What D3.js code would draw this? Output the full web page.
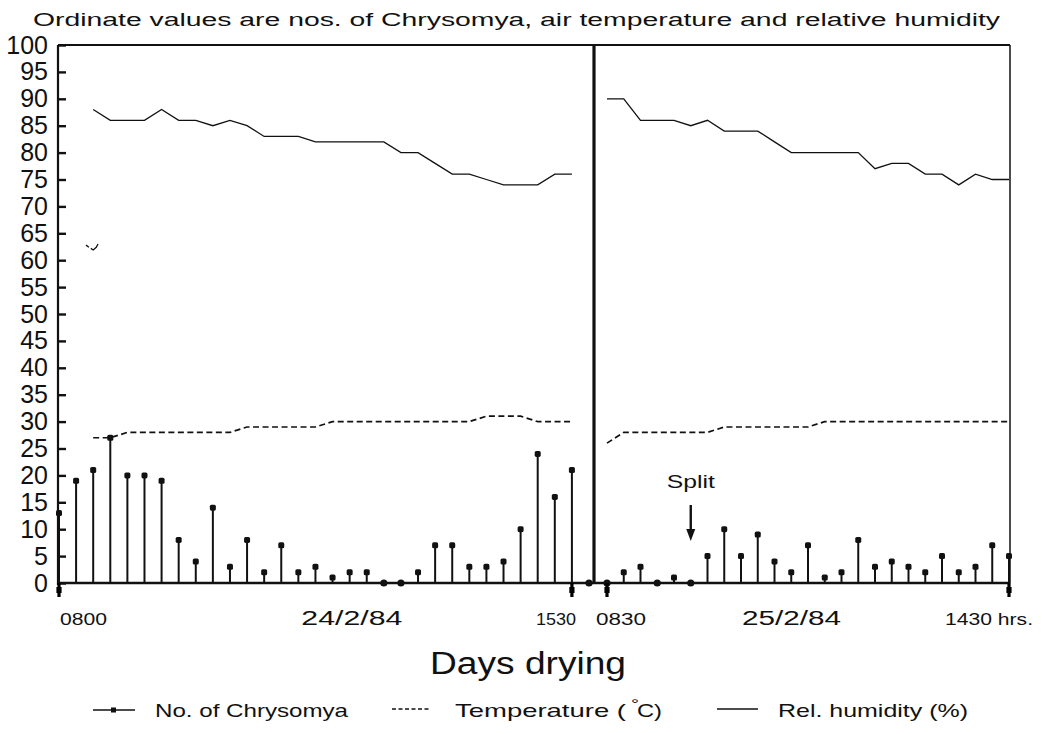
<!DOCTYPE html>
<html>
<head>
<meta charset="utf-8">
<script src="https://cdn.jsdelivr.net/npm/d3@7"></script>
<style>
  html, body { margin: 0; padding: 0; background: #fff; }
  svg { display: block; font-family: "Liberation Sans", Arial, sans-serif; }
</style>
</head>
<body>
<svg id="chart" width="1046" height="734"></svg>
<script>
// ---------- data ----------
// No. of Chrysomya per sampling slot, day 1 (24/2/84) and day 2 (25/2/84)
const day1Counts = [13, 19, 21, 27, 20, 20, 19, 8, 4, 14, 3, 8, 2, 7, 2, 3, 1, 2, 2, 0, 0, 2, 7, 7, 3, 3, 4, 10, 24, 16, 21, 0];
const day2Counts = [0, 2, 3, 0, 1, 0, 5, 10, 5, 9, 4, 2, 7, 1, 2, 8, 3, 4, 3, 2, 5, 2, 3, 7, 5];

// air temperature (deg C), null = not recorded
const day1Temp = [null, null, 27, 27, 28, 28, 28, 28, 28, 28, 28, 29, 29, 29, 29, 29, 30, 30, 30, 30, 30, 30, 30, 30, 30, 31, 31, 31, 30, 30, 30, null];
const day2Temp = [26, 28, 28, 28, 28, 28, 28, 29, 29, 29, 29, 29, 29, 30, 30, 30, 30, 30, 30, 30, 30, 30, 30, 30, 30];

// relative humidity (%)
const day1RH = [null, null, 88, 86, 86, 86, 88, 86, 86, 85, 86, 85, 83, 83, 83, 82, 82, 82, 82, 82, 80, 80, 78, 76, 76, 75, 74, 74, 74, 76, 76, null];
const day2RH = [90, 90, 86, 86, 86, 85, 86, 84, 84, 84, 82, 80, 80, 80, 80, 80, 77, 78, 78, 76, 76, 74, 76, 75, 75];
// small stray humidity trace drawn near slot 2 of day 1 (slot, value)
const strayRH = [[1.58, 62.8], [1.75, 62.4], null, [1.86, 62.2], [2.0, 61.9], [2.18, 62.4], [2.28, 63.0]];

const yTicks = d3.range(0, 101, 5);
const day1Labels = ["0800", "24/2/84", "1530"];
const day2Labels = ["0830", "25/2/84", "1430 hrs."];
const splitSlot = 5;   // day 2 slot marked "Split"

// ---------- setup ----------
const svg = d3.select("#chart");
const ink = "#111";

const y = d3.scaleLinear().domain([0, 100]).range([583, 45]);
const x1 = d3.scaleLinear().domain([0, day1Counts.length - 1]).range([59, 589]);
const x2 = d3.scaleLinear().domain([0, day2Counts.length - 1]).range([607, 1009]);
const xLeft = 58, xRight = 1010, xDivider = 594;

// title
svg.append("text")
  .attr("x", 33).attr("y", 26)
  .attr("textLength", 967).attr("lengthAdjust", "spacingAndGlyphs")
  .style("font-size", "18px").style("fill", ink)
  .text("Ordinate values are nos. of Chrysomya, air temperature and relative humidity");

// frame
const frame = svg.append("g").attr("stroke", ink).attr("fill", "none");
frame.append("line").attr("x1", xLeft).attr("x2", xRight).attr("y1", y(100)).attr("y2", y(100)).attr("stroke-width", 1.8);
frame.append("line").attr("x1", xRight).attr("x2", xRight).attr("y1", y(100)).attr("y2", y(0)).attr("stroke-width", 1.5);
frame.append("line").attr("x1", xDivider).attr("x2", xDivider).attr("y1", y(100)).attr("y2", y(0)).attr("stroke-width", 3.2);
frame.append("line").attr("x1", xLeft).attr("x2", xLeft).attr("y1", y(100)).attr("y2", y(0) + 2).attr("stroke-width", 2.2);

// y axis, ticks pointing inward
const yAxis = svg.append("g")
  .attr("transform", `translate(${xLeft},0)`)
  .call(d3.axisLeft(y).tickValues(yTicks).tickSizeInner(-8).tickSizeOuter(0).tickPadding(10));
yAxis.select(".domain").remove();
yAxis.selectAll(".tick line").attr("stroke", ink).attr("stroke-width", 2.4);
yAxis.selectAll(".tick text")
  .attr("fill", ink)
  .style("font-size", "25px")
  .style("font-family", "'Liberation Sans', Arial, sans-serif");

// baseline
svg.append("line")
  .attr("x1", xLeft).attr("x2", xRight)
  .attr("y1", y(0)).attr("y2", y(0))
  .attr("stroke", ink).attr("stroke-width", 2.6);

// ---------- lines ----------
function drawLines(x, temp, rh) {
  const line = d3.line()
    .defined(d => d != null)
    .x((d, i) => x(i))
    .y(d => y(d));
  svg.append("path").datum(temp)
    .attr("d", line)
    .attr("fill", "none").attr("stroke", ink)
    .attr("stroke-width", 1.7).attr("stroke-dasharray", "6,3.5");
  svg.append("path").datum(rh)
    .attr("d", line)
    .attr("fill", "none").attr("stroke", ink)
    .attr("stroke-width", 1.3);
}
drawLines(x1, day1Temp, day1RH);
drawLines(x2, day2Temp, day2RH);

svg.append("path").datum(strayRH)
  .attr("d", d3.line().defined(d => d != null).x(d => x1(d[0])).y(d => y(d[1])))
  .attr("fill", "none").attr("stroke", ink).attr("stroke-width", 1.3);

// ---------- stems ----------
function drawStems(x, counts) {
  const g = svg.append("g");
  const pts = counts.map((v, i) => ({ i, v }));
  g.selectAll("line.stem")
    .data(pts.filter(d => d.v > 0))
    .join("line")
    .attr("class", "stem")
    .attr("x1", d => x(d.i)).attr("x2", d => x(d.i))
    .attr("y1", y(0)).attr("y2", d => y(d.v))
    .attr("stroke", ink).attr("stroke-width", 2);
  g.selectAll("rect.cap")
    .data(pts.filter(d => d.v > 0))
    .join("rect")
    .attr("class", "cap")
    .attr("x", d => x(d.i) - 3).attr("y", d => y(d.v) - 3)
    .attr("width", 6).attr("height", 6).attr("rx", 1.6)
    .attr("fill", ink);
  g.selectAll("circle.zero")
    .data(pts.filter(d => d.v === 0))
    .join("circle")
    .attr("class", "zero")
    .attr("cx", d => x(d.i)).attr("cy", y(0))
    .attr("r", 3.6).attr("fill", ink);
}
drawStems(x1, day1Counts);
drawStems(x2, day2Counts);

// ticks below the baseline at the start / end of each day
const dayTicks = [x1(0), x1(day1Counts.length - 2), x2(0), x2(day2Counts.length - 1)];
svg.append("g").selectAll("rect")
  .data(dayTicks)
  .join("rect")
  .attr("x", d => d - 1.6).attr("y", y(0))
  .attr("width", 3.2).attr("height", 14)
  .attr("fill", "#000");
svg.append("g").selectAll("rect")
  .data(dayTicks)
  .join("rect")
  .attr("x", d => d - 2.6).attr("y", y(0) + 4)
  .attr("width", 5.2).attr("height", 6)
  .attr("fill", "#000");

// ---------- x labels ----------
const labelY = 625;
function label(text, xpos, size, width) {
  return svg.append("text")
    .attr("x", xpos).attr("y", labelY)
    .attr("textLength", width).attr("lengthAdjust", "spacingAndGlyphs")
    .style("font-size", size + "px").style("fill", ink)
    .text(text);
}
label(day1Labels[0], x1(0) + 1, 17, 47);
label(day1Labels[1], x1(14) + 3, 20, 101);
label(day1Labels[2], x1(day1Counts.length - 2) - 36, 17, 40);
label(day2Labels[0], x2(0) - 11, 17, 50);
label(day2Labels[1], x2(8) + 1, 20, 99);
label(day2Labels[2], x2(20) + 3, 16, 88);

svg.append("text")
  .attr("x", 528).attr("y", 674)
  .attr("text-anchor", "middle")
  .attr("textLength", 196).attr("lengthAdjust", "spacingAndGlyphs")
  .style("font-size", "31px").style("fill", ink)
  .text("Days drying");

// ---------- split annotation ----------
const sx = x2(splitSlot);
svg.append("text")
  .attr("x", sx).attr("y", 488)
  .attr("text-anchor", "middle")
  .attr("textLength", 48).attr("lengthAdjust", "spacingAndGlyphs")
  .style("font-size", "19px").style("fill", ink)
  .text("Split");
svg.append("line")
  .attr("x1", sx).attr("x2", sx).attr("y1", 505).attr("y2", 530)
  .attr("stroke", ink).attr("stroke-width", 2.4);
svg.append("path")
  .attr("d", `M${sx - 4.5},529 L${sx + 4.5},529 L${sx},541 Z`)
  .attr("fill", ink);

// ---------- legend ----------
const legY = 710;
const leg = svg.append("g").attr("stroke", ink).attr("fill", "none");
leg.append("line").attr("x1", 93).attr("x2", 135).attr("y1", legY).attr("y2", legY).attr("stroke-width", 1.6);
leg.append("rect").attr("x", 111).attr("y", legY - 2.5).attr("width", 5).attr("height", 5).attr("fill", ink).attr("stroke", "none");
leg.append("line").attr("x1", 392).attr("x2", 430).attr("y1", legY - 1).attr("y2", legY - 1)
  .attr("stroke-width", 1.5).attr("stroke-dasharray", "4,2.5");
leg.append("line").attr("x1", 717).attr("x2", 758).attr("y1", legY - 1).attr("y2", legY - 1).attr("stroke-width", 1.4);

function legText(txt, xpos, width, size = 19) {
  return svg.append("text")
    .attr("x", xpos).attr("y", legY + 7)
    .attr("textLength", width).attr("lengthAdjust", "spacingAndGlyphs")
    .style("font-size", size + "px").style("fill", ink)
    .text(txt);
}
legText("No. of Chrysomya", 155, 193);
legText("Temperature (", 455, 171);
legText("°", 631, 8, 15).attr("y", legY - 1);
legText("C)", 637, 25);
legText("Rel. humidity (%)", 778, 190);
</script>
</body>
</html>
